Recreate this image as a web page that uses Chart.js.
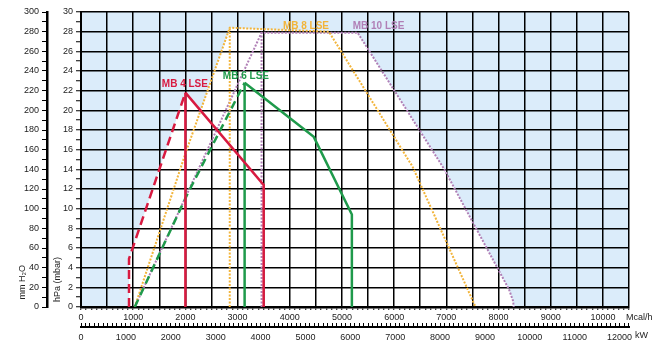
<!DOCTYPE html>
<html>
<head>
<meta charset="utf-8">
<script src="https://cdn.jsdelivr.net/npm/chart.js@4.4.1/dist/chart.umd.min.js"></script>
<style>
  html, body { margin: 0; padding: 0; background: #fff; }
</style>
</head>
<body>
<canvas id="fieldChart" width="661" height="353"></canvas>
<script>
// ================= DATA =================
// output in Mcal/h, back pressure in hPa (mbar)
const mb4RampX = [920, 920, 2000]
const mb4RampY = [0, 4.9, 21.8]
const mb4FieldX = [2000, 3500, 3500]
const mb4FieldY = [21.8, 12.4, 0]

const mb6RampX = [1030, 2040, 3135]
const mb6RampY = [0, 11.5, 22.8]
const mb6FieldX = [3135, 4460, 5190, 5190]
const mb6FieldY = [22.8, 17.3, 9.4, 0]

const mb8FieldX = [1030, 2000, 2850, 4750, 6350, 7560]
const mb8FieldY = [0, 15.6, 28.4, 28.0, 14.3, 0]

const mb10FieldX = [1030, 3460, 5300, 6950, 8200, 8280, 8290]
const mb10FieldY = [0, 27.9, 27.9, 14.1, 1.8, 0.6, 0]

const modelNames = ['MB 4 LSE', 'MB 6 LSE', 'MB 8 LSE', 'MB 10 LSE']
const nameAtX = [1990, 3160, 4310, 5700]
const nameAtY = [22.7, 23.5, 28.6, 28.6]

const mcalMax = 10500
const hpaMax = 30
const mmMax = 300
const kwPerMcal = 1 / 0.86
const kwStep = 100

// ================= STYLE =================
const red = '#d81a40'
const green = '#1f9a4b'
const orange = '#f2b43a'
const purple = '#b07fb6'
const modelColors = [red, green, orange, purple]

Chart.defaults.font.family = '"Liberation Sans", Arial, sans-serif'
Chart.defaults.font.size = 9
Chart.defaults.color = '#222'

const pts = (xs, ys) => xs.map((x, i) => ({ x, y: ys[i] }))
const upright = (xs, ys, i) => pts([xs[i], xs[i]], [0, ys[i]])

// working fields (white areas)
const fields = [
  pts(mb4RampX.concat(mb4FieldX), mb4RampY.concat(mb4FieldY)),
  pts(mb6RampX.concat(mb6FieldX), mb6RampY.concat(mb6FieldY)),
  pts(mb8FieldX, mb8FieldY),
  pts(mb10FieldX, mb10FieldY)
]

function line(data, color, width, dash) {
  return {
    data, borderColor: color, borderWidth: width, borderDash: dash || [],
    pointRadius: 0, fill: false, tension: 0, xAxisID: 'x', yAxisID: 'y'
  }
}

const datasets = [
  line(pts(mb4RampX, mb4RampY), red, 2.5, [9, 5]),
  line(pts(mb4FieldX, mb4FieldY), red, 2.5),
  line(upright(mb4RampX, mb4RampY, mb4RampX.length - 1), red, 2.5),
  line(pts(mb6RampX, mb6RampY), green, 2.5, [8, 5]),
  line(pts(mb6FieldX, mb6FieldY), green, 2.5),
  line(upright(mb6RampX, mb6RampY, mb6RampX.length - 1), green, 2.5),
  line(pts(mb8FieldX, mb8FieldY), orange, 2, [2, 1.5]),
  line(upright(mb8FieldX, mb8FieldY, 2), orange, 2, [2, 1.5]),
  line(pts(mb10FieldX, mb10FieldY), purple, 2, [2, 1.5]),
  line(upright(mb10FieldX, mb10FieldY, 1), purple, 2, [2, 1.5])
]

// ================= PLUGINS =================
const workArea = {
  id: 'workArea',
  beforeDraw(chart) {
    const { ctx, chartArea: a, scales: { x, y } } = chart
    ctx.save()
    ctx.fillStyle = '#dbecfa'
    ctx.fillRect(a.left, a.top, a.right - a.left, a.bottom - a.top)
    ctx.fillStyle = '#fff'
    fields.forEach(f => {
      ctx.beginPath()
      f.forEach((p, i) => {
        const px = x.getPixelForValue(p.x)
        const py = y.getPixelForValue(p.y)
        if (i) ctx.lineTo(px, py)
        else ctx.moveTo(px, py)
      })
      ctx.closePath()
      ctx.fill()
    })
    ctx.restore()
  }
}

const annotations = {
  id: 'annotations',
  afterDatasetsDraw(chart) {
    const { ctx, chartArea: a, scales: { x, y, kw } } = chart
    ctx.save()
    ctx.font = 'bold 10px "Liberation Sans", Arial, sans-serif'
    ctx.textAlign = 'center'
    ctx.textBaseline = 'middle'
    modelNames.forEach((name, i) => {
      ctx.fillStyle = modelColors[i]
      ctx.fillText(name, x.getPixelForValue(nameAtX[i]), y.getPixelForValue(nameAtY[i]))
    })
    ctx.font = '9px "Liberation Sans", Arial, sans-serif'
    ctx.fillStyle = '#222'
    ctx.textAlign = 'left'
    ctx.fillText('Mcal/h', a.right - 3, x.top + 11)
    ctx.fillText('kW', a.right + 6, kw.top + 9)
    ctx.restore()
  }
}

// ================= CHART =================
const black = '#000'
const none = 'rgba(0,0,0,0)'

new Chart(document.getElementById('fieldChart'), {
  type: 'line',
  data: { datasets },
  plugins: [workArea, annotations],
  options: {
    responsive: false,
    devicePixelRatio: 1,
    animation: false,
    layout: { padding: { left: 0, right: 32, top: 12, bottom: 0 } },
    plugins: { legend: { display: false }, tooltip: { enabled: false } },
    scales: {
      x: {
        type: 'linear', position: 'bottom', axis: 'x', weight: 0,
        min: 0, max: mcalMax,
        afterFit: s => { s.height = 20 },
        border: { color: black, width: 2.5 },
        grid: {
          color: c => (c.tick && c.tick.value % 500 === 0 ? black : none),
          lineWidth: 1.5, tickColor: black, tickWidth: 1, tickLength: 3
        },
        ticks: {
          stepSize: 100, autoSkip: false, maxRotation: 0, padding: 2,
          callback: v => (v % 1000 === 0 ? v : '')
        }
      },
      kw: {
        type: 'linear', position: 'bottom', axis: 'x', weight: 1,
        min: 0, max: mcalMax * kwPerMcal,
        afterFit: s => { s.height = 26 },
        // keep one tick per 100 kW (the default generator stretches the step)
        afterBuildTicks: s => {
          const n = Math.floor(s.max / kwStep)
          s.ticks = Array.from({ length: n + 1 }, (_, i) => ({ value: i * kwStep }))
        },
        border: { color: black, width: 2 },
        grid: { drawOnChartArea: false, tickColor: black, tickWidth: 1, tickLength: -4 },
        ticks: {
          autoSkip: false, maxRotation: 0, padding: 9,
          callback: v => (v % 1000 === 0 ? v : '')
        }
      },
      y: {
        type: 'linear', position: 'left', axis: 'y', weight: 0,
        min: 0, max: hpaMax,
        afterFit: s => { s.width = 34 },
        border: { color: black, width: 2 },
        grid: {
          color: c => (c.tick && c.tick.value % 2 === 0 ? black : none),
          lineWidth: 1.5, tickColor: black, tickWidth: 1, tickLength: 5
        },
        ticks: {
          stepSize: 1, autoSkip: false, padding: 3,
          callback: v => (v % 2 === 0 ? v : '')
        },
        title: { display: true, text: '  hPa (mbar)', align: 'start', padding: { top: 5, bottom: 0 } }
      },
      mm: {
        type: 'linear', position: 'left', axis: 'y', weight: 1,
        min: 0, max: mmMax,
        afterFit: s => { s.width = 47 },
        border: { color: black, width: 2.5 },
        grid: { drawOnChartArea: false, tickColor: black, tickWidth: 1, tickLength: 5 },
        ticks: {
          stepSize: 10, autoSkip: false, padding: 3,
          callback: v => (v % 20 === 0 ? v : '')
        },
        title: { display: true, text: '   mm H₂O', align: 'start', padding: { top: 17, bottom: 0 } }
      }
    }
  }
})
</script>
</body>
</html>
